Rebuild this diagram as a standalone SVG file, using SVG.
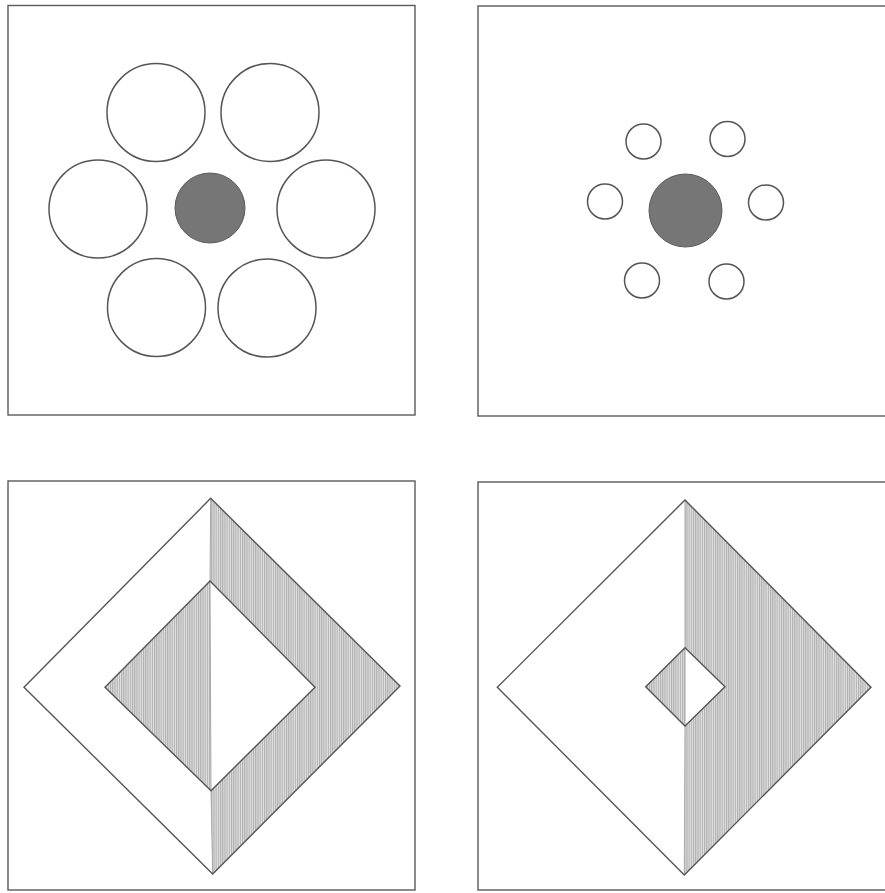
<svg xmlns="http://www.w3.org/2000/svg" width="885" height="893" viewBox="0 0 885 893">
<defs>
<pattern id="hatch" width="2.2" height="10" patternUnits="userSpaceOnUse">
<rect width="2.2" height="10" fill="#e2e2e2"/>
<line x1="0.6" y1="0" x2="0.6" y2="10" stroke="#a2a2a2" stroke-width="0.9"/>
</pattern>
</defs>
<style>
.frame{fill:none;stroke:#5a5a5a;stroke-width:1.4}
.ring{fill:none;stroke:#555;stroke-width:1.5}
.disc{fill:#767676;stroke:#5a5a5a;stroke-width:1}
.edge{fill:none;stroke:#555;stroke-width:1.4;stroke-linejoin:miter}
.hat{fill:url(#hatch);stroke:none}
.seam{stroke:#a8a8a8;stroke-width:1}
</style>
<rect width="885" height="893" fill="#ffffff"/>

<g id="panel-top-left">
<rect class="frame" x="8" y="5.5" width="407" height="409.5"/>
<circle class="disc" cx="210" cy="208" r="35"/>
<circle class="ring" cx="156" cy="112.5" r="49"/>
<circle class="ring" cx="270" cy="112.5" r="49"/>
<circle class="ring" cx="98" cy="209" r="49"/>
<circle class="ring" cx="326" cy="209" r="49"/>
<circle class="ring" cx="156.5" cy="307.5" r="49"/>
<circle class="ring" cx="267" cy="308" r="49"/>
</g>

<g id="panel-top-right">
<rect class="frame" x="478" y="6" width="420" height="410"/>
<circle class="disc" cx="685.5" cy="210.5" r="36.5"/>
<circle class="ring" cx="643.5" cy="141.5" r="17.5"/>
<circle class="ring" cx="727.5" cy="139" r="17.5"/>
<circle class="ring" cx="605" cy="201.5" r="17.5"/>
<circle class="ring" cx="766" cy="202.5" r="17.5"/>
<circle class="ring" cx="642" cy="280.5" r="17.5"/>
<circle class="ring" cx="726.5" cy="281.5" r="17.5"/>
</g>

<g id="panel-bottom-left">
<rect class="frame" x="8" y="481" width="407" height="409"/>
<polygon class="hat" points="210.7,498.3 400,686 212.7,874 211,790.7 315,687.3 210,581"/>
<polygon class="hat" points="210,581 105,687.3 211,790.7"/>
<line class="seam" x1="210.7" y1="498.3" x2="210" y2="581"/>
<line class="seam" x1="211" y1="790.7" x2="212.7" y2="874"/>
<line class="seam" x1="210" y1="581" x2="211" y2="790.7"/>
<polygon class="edge" points="210.7,498.3 400,686 212.7,874 24,687.3"/>
<polygon class="edge" points="210,581 315,687.3 211,790.7 105,687.3"/>
</g>

<g id="panel-bottom-right">
<rect class="frame" x="478" y="482" width="420" height="408"/>
<polygon class="hat" points="685,500 871,687.3 684.3,875 685,726 725,686.7 685,647.7"/>
<polygon class="hat" points="685,647.7 645.7,686.7 685,726"/>
<line class="seam" x1="685" y1="500" x2="685" y2="647.7"/>
<line class="seam" x1="685" y1="726" x2="684.3" y2="875"/>
<line class="seam" x1="685" y1="647.7" x2="685" y2="726"/>
<polygon class="edge" points="685,500 871,687.3 684.3,875 497.3,687.3"/>
<polygon class="edge" points="685,647.7 725,686.7 685,726 645.7,686.7"/>
</g>
</svg>
